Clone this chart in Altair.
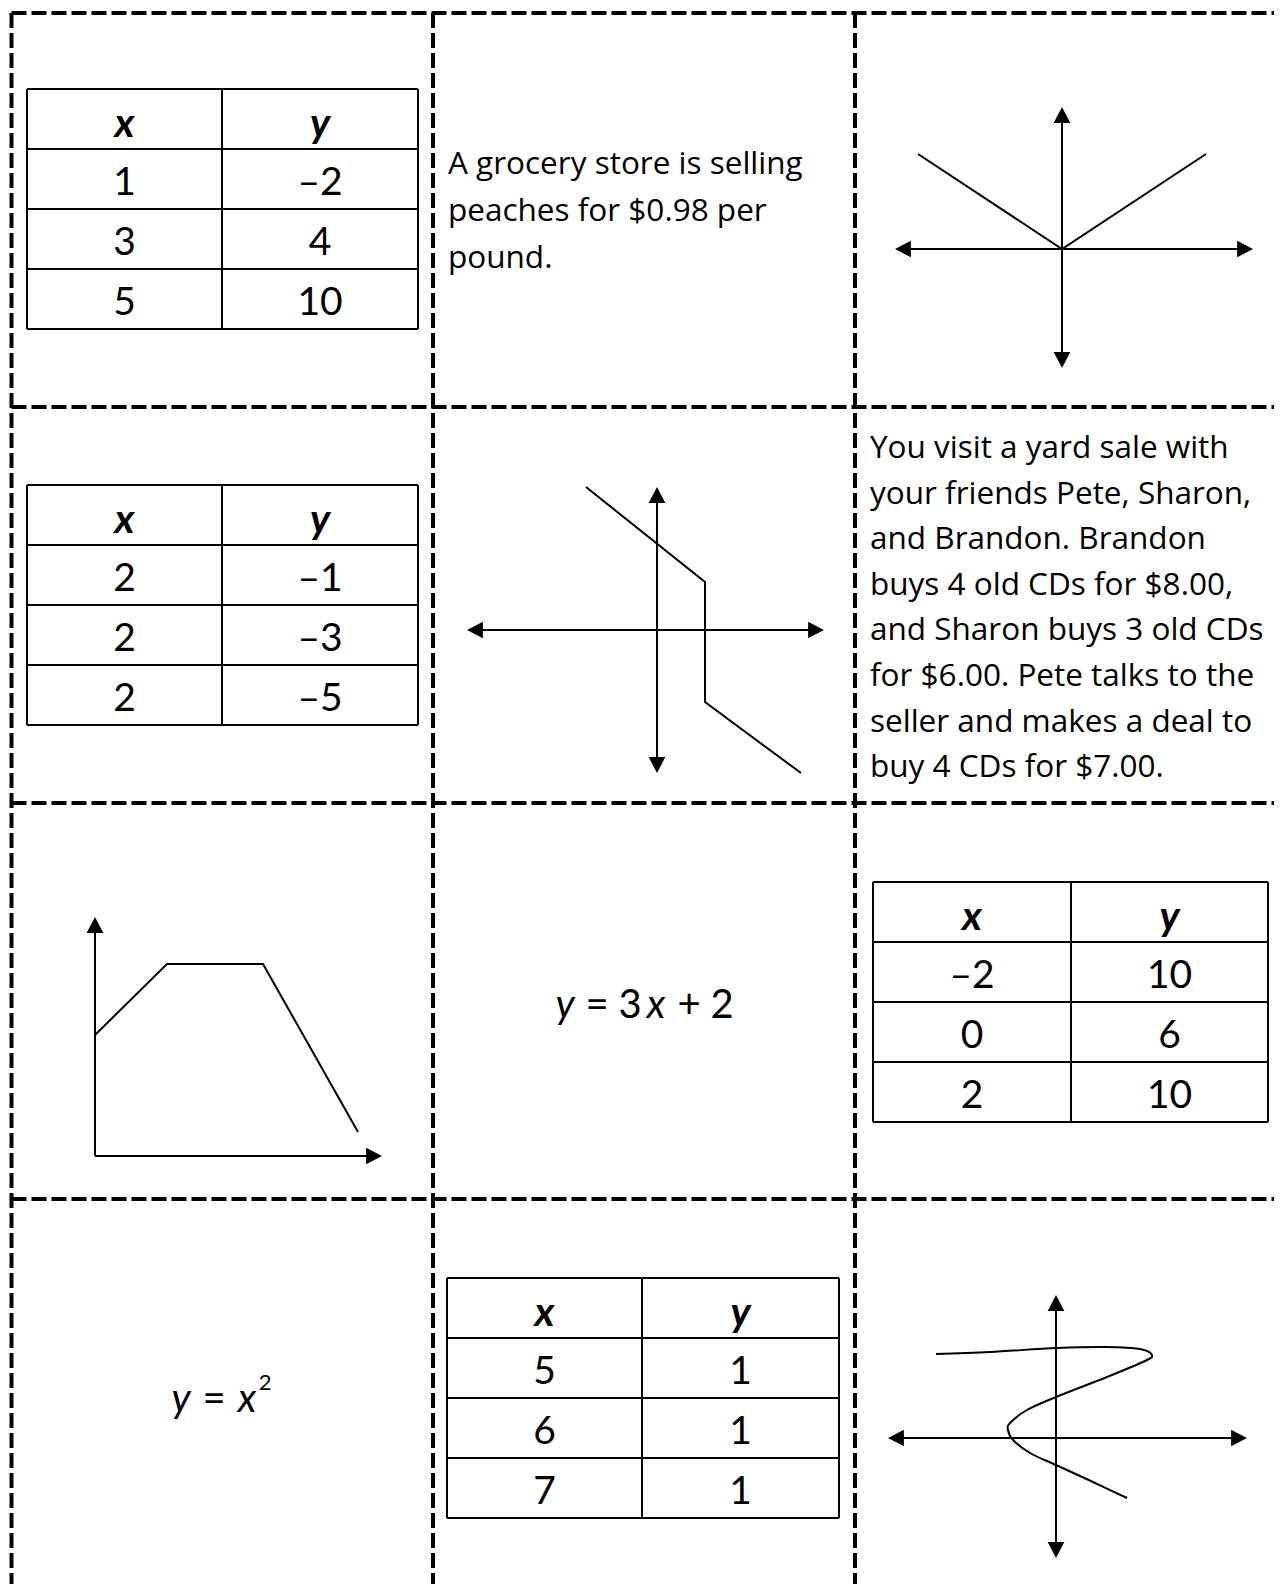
import altair as alt
import pandas as pd

# ---------------- values read from the worksheet ----------------
HEADERS = ["x", "y"]
T1_X = ["1", "3", "5"]
T1_Y = ["–2", "4", "10"]
T2_X = ["2", "2", "2"]
T2_Y = ["–1", "–3", "–5"]
T3_X = ["–2", "0", "2"]
T3_Y = ["10", "6", "10"]
T4_X = ["5", "6", "7"]
T4_Y = ["1", "1", "1"]

GROCERY_LINES = ["A grocery store is selling", "peaches for $0.98 per", "pound."]
YARD_LINES = [
    "You visit a yard sale with",
    "your friends Pete, Sharon,",
    "and Brandon. Brandon",
    "buys 4 old CDs for $8.00,",
    "and Sharon buys 3 old CDs",
    "for $6.00. Pete talks to the",
    "seller and makes a deal to",
    "buy 4 CDs for $7.00.",
]
EQ1_PARTS = ["y", "=", "3", "x", "+", "2"]
EQ1_ITALIC = [True, False, False, True, False, False]
EQ2_PARTS = ["y", "=", "x"]
EQ2_ITALIC = [True, False, True]
EQ2_SUP = "2"

# graph curves (page-pixel readings)
ABS_X = [918, 1062, 1206]
ABS_Y = [154, 249, 154]
STEP_X = [586, 705, 705, 801]
STEP_Y = [487, 582, 702, 773]
TRAP_X = [95, 167, 263, 358]
TRAP_Y = [1035, 964, 964, 1132]
S_X = [936, 990, 1057, 1107, 1140, 1152, 1145, 1107, 1056, 1027, 1010, 1008, 1013, 1030, 1056, 1093, 1127]
S_Y = [1354, 1352, 1348, 1347, 1349, 1355, 1361, 1377, 1397, 1410, 1423, 1430, 1440, 1453, 1465, 1482, 1498]

# ---------------- layout ----------------
W, H = 1266, 1576
OX, OY = 8, 8
PAGE_R, PAGE_B = 1282, 1592
COL_X = [11.5, 433, 855]
ROW_Y = [13, 407, 803, 1199]

ROW_H = 60
TABLES = [  # (xs, ys, left, top, divider, right)
    (T1_X, T1_Y, 27, 89, 222, 418),
    (T2_X, T2_Y, 27, 485, 222, 418),
    (T3_X, T3_Y, 873, 882, 1071, 1268),
    (T4_X, T4_Y, 447, 1278, 642, 839),
]
AXES = [  # x1, y1, x2, y2, arrow at start, arrow at end
    (895, 249, 1253, 249, True, True),
    (1062, 107, 1062, 368, True, True),
    (467, 630, 824, 630, True, True),
    (657, 487, 657, 773, True, True),
    (95, 1156, 382, 1156, False, True),
    (95, 1156, 95, 917, False, True),
    (888, 1438, 1247, 1438, True, True),
    (1056, 1295, 1056, 1558, True, True),
]
GROCERY_POS = (448, 174, 47)
YARD_POS = (870, 458, 45.6)
EQ1_CX = [565, 597, 630, 656, 689, 722]
EQ1_BASE = 1018
EQ2_CX = [181, 214, 247]
EQ2_BASE = 1412
EQ2_SUP_POS = (265, 1390)

FONT = "Lato"
PARA_FONT = "Open Sans"
NUM_SIZE = 39
EQ_SIZE = 40
PARA_SIZE = 31.5

XS = alt.Scale(domain=[OX, OX + W])
YS = alt.Scale(domain=[OY, OY + H], reverse=True)


def pos():
    return dict(x=alt.X("x:Q", scale=XS, axis=None), y=alt.Y("y:Q", scale=YS, axis=None))


def enc_rule():
    return dict(**pos(), x2="x2:Q", y2="y2:Q")


# dashed cut lines
dash_rows = []
for yv in ROW_Y:
    dash_rows.append(dict(x=COL_X[0], y=yv, x2=PAGE_R, y2=yv))
for xv in COL_X:
    dash_rows.append(dict(x=xv, y=ROW_Y[0], x2=xv, y2=PAGE_B))
dashes = alt.Chart(pd.DataFrame(dash_rows)).mark_rule(
    color="black", strokeWidth=4, strokeDash=[15, 5]
).encode(**enc_rule())

# tables
tab_rules, tab_text = [], []
for xs, ys, left, top, div, right in TABLES:
    n = len(xs) + 1
    for i in range(n + 1):
        yv = top + i * ROW_H
        tab_rules.append(dict(x=left, y=yv, x2=right, y2=yv))
    for xv in (left, div, right):
        tab_rules.append(dict(x=xv, y=top, x2=xv, y2=top + n * ROW_H))
    cx1 = (left + div) / 2
    cx2 = (div + right) / 2
    for j, h in enumerate(HEADERS):
        tab_text.append(dict(x=[cx1, cx2][j], y=top + 48, t=h, kind="head"))
    for i, (a, b) in enumerate(zip(xs, ys)):
        base = top + (i + 1) * ROW_H + 46
        tab_text.append(dict(x=cx1, y=base, t=a, kind="num"))
        tab_text.append(dict(x=cx2, y=base, t=b, kind="num"))

table_lines = alt.Chart(pd.DataFrame(tab_rules)).mark_rule(
    color="black", strokeWidth=2
).encode(**enc_rule())

tdf = pd.DataFrame(tab_text)
heads = alt.Chart(tdf[tdf.kind == "head"]).mark_text(
    font=FONT, fontSize=NUM_SIZE + 2, fontStyle="italic", fontWeight="bold",
    align="center", baseline="alphabetic", color="black"
).encode(**pos(), text="t:N")
nums = alt.Chart(tdf[tdf.kind == "num"]).mark_text(
    font=FONT, fontSize=NUM_SIZE, align="center", baseline="alphabetic", color="black"
).encode(**pos(), text="t:N")

# paragraphs
para_rows = []
gx, gy, gs = GROCERY_POS
for i, t in enumerate(GROCERY_LINES):
    para_rows.append(dict(x=gx, y=gy + i * gs, t=t))
yx, yy, ys_ = YARD_POS
for i, t in enumerate(YARD_LINES):
    para_rows.append(dict(x=yx, y=yy + i * ys_, t=t))
paras = alt.Chart(pd.DataFrame(para_rows)).mark_text(
    font=PARA_FONT, fontSize=PARA_SIZE, align="left", baseline="alphabetic", color="black"
).encode(**pos(), text="t:N")

# equations
eq_rows = []
for t, it, cx in zip(EQ1_PARTS, EQ1_ITALIC, EQ1_CX):
    eq_rows.append(dict(x=cx, y=EQ1_BASE, t=t, st="italic" if it else "normal"))
for t, it, cx in zip(EQ2_PARTS, EQ2_ITALIC, EQ2_CX):
    eq_rows.append(dict(x=cx, y=EQ2_BASE, t=t, st="italic" if it else "normal"))
eqdf = pd.DataFrame(eq_rows)
eq_it = alt.Chart(eqdf[eqdf.st == "italic"]).mark_text(
    font=FONT, fontSize=EQ_SIZE, fontStyle="italic", align="center", baseline="alphabetic", color="black"
).encode(**pos(), text="t:N")
eq_up = alt.Chart(eqdf[eqdf.st == "normal"]).mark_text(
    font=FONT, fontSize=EQ_SIZE, align="center", baseline="alphabetic", color="black"
).encode(**pos(), text="t:N")
sup = alt.Chart(pd.DataFrame([dict(x=EQ2_SUP_POS[0], y=EQ2_SUP_POS[1], t=EQ2_SUP)])).mark_text(
    font=FONT, fontSize=22, align="center", baseline="alphabetic", color="black"
).encode(**pos(), text="t:N")

# axes with arrowheads
ARROW = "M0,0L-1,1.9L1,1.9Z"
axis_rows, head_rows = [], []


def ang(vx, vy):
    if abs(vx) > abs(vy):
        return 90 if vx > 0 else 270
    return 180 if vy > 0 else 0


for x1, y1, x2, y2, a1, a2 in AXES:
    dx, dy = (x2 - x1), (y2 - y1)
    L = (dx * dx + dy * dy) ** 0.5
    ux, uy = dx / L, dy / L
    sx, sy = (x1 + ux * 8, y1 + uy * 8) if a1 else (x1, y1)
    ex, ey = (x2 - ux * 8, y2 - uy * 8) if a2 else (x2, y2)
    axis_rows.append(dict(x=sx, y=sy, x2=ex, y2=ey))
    if a2:
        head_rows.append(dict(x=x2, y=y2, a=ang(ux, uy)))
    if a1:
        head_rows.append(dict(x=x1, y=y1, a=ang(-ux, -uy)))

axes = alt.Chart(pd.DataFrame(axis_rows)).mark_rule(
    color="black", strokeWidth=2
).encode(**enc_rule())
heads_arrow = alt.Chart(pd.DataFrame(head_rows)).mark_point(
    shape=ARROW, filled=True, size=280, color="black", opacity=1, strokeWidth=0
).encode(**pos(), angle=alt.Angle("a:Q", scale=None))

# graph curves
curve_rows = []
for name, xs, ys in [("abs", ABS_X, ABS_Y), ("step", STEP_X, STEP_Y), ("trap", TRAP_X, TRAP_Y)]:
    for i, (a, b) in enumerate(zip(xs, ys)):
        curve_rows.append(dict(g=name, o=i, x=a, y=b))
poly = alt.Chart(pd.DataFrame(curve_rows)).mark_line(
    color="black", strokeWidth=2, strokeJoin="miter"
).encode(**pos(), detail="g:N", order="o:Q")
s_df = pd.DataFrame(dict(x=S_X, y=S_Y, o=list(range(len(S_X)))))
scurve = alt.Chart(s_df).mark_line(
    color="black", strokeWidth=2, interpolate="cardinal"
).encode(**pos(), order="o:Q")

chart = alt.layer(
    dashes, table_lines, heads, nums, paras, eq_it, eq_up, sup, axes, heads_arrow, poly, scurve
).properties(
    width=W, height=H, padding=0, autosize=alt.AutoSizeParams(type="none"), background="white"
).configure_view(stroke=None)

chart.save("out.html", embed_options={"renderer": "svg", "actions": False})
